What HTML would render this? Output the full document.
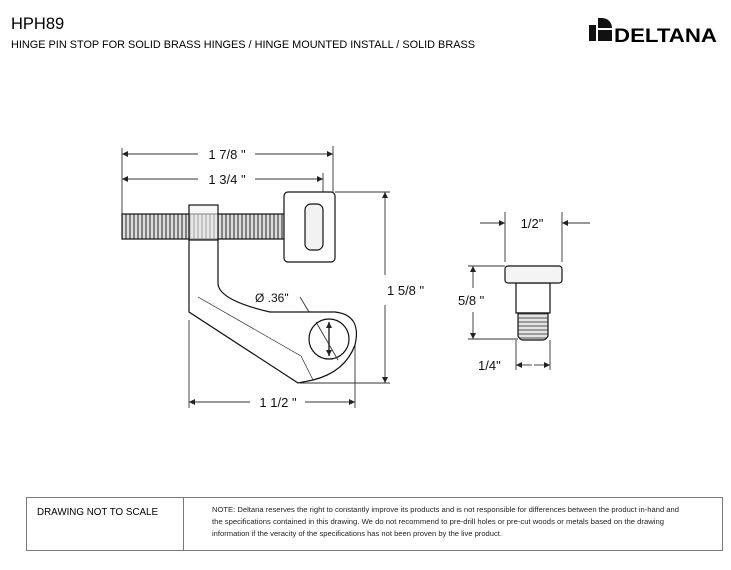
<!DOCTYPE html>
<html><head><style>
body{margin:0;background:#fff;width:731px;height:565px;overflow:hidden;font-family:"Liberation Sans",Arial,sans-serif}
</style></head><body>
<svg width="731" height="565" viewBox="0 0 731 565" xmlns="http://www.w3.org/2000/svg" font-family="Liberation Sans, Arial, sans-serif">
<defs>
<marker id="a" viewBox="0 0 10 10" refX="10" refY="5" markerWidth="9" markerHeight="6" orient="auto-start-reverse" markerUnits="userSpaceOnUse"><path d="M0,0L10,5L0,10z" fill="#222"/></marker>
<pattern id="th" width="4" height="4" patternUnits="userSpaceOnUse"><rect width="4" height="4" fill="#ddd"/><line x1="2" y1="0" x2="2" y2="4" stroke="#444" stroke-width="1.2"/></pattern>
<pattern id="th2" width="4" height="4" patternUnits="userSpaceOnUse"><rect width="4" height="4" fill="#e4e4e4"/><line x1="0" y1="2" x2="4" y2="2" stroke="#555" stroke-width="1"/></pattern>
</defs>
<text x="11" y="29" font-size="16.5">HPH89</text>
<text x="11" y="48" font-size="11" textLength="464" lengthAdjust="spacingAndGlyphs">HINGE PIN STOP FOR SOLID BRASS HINGES / HINGE MOUNTED INSTALL /  SOLID BRASS</text>
<g fill="#111"><rect x="589" y="25" width="7" height="16"/><path d="M598,18h4a10,10 0 0 1 10,10v0h-14z"/><rect x="598" y="30" width="14" height="11"/></g>
<text x="614" y="42" font-size="19" font-weight="bold" textLength="103" lengthAdjust="spacingAndGlyphs">DELTANA</text>

<g stroke="#333" stroke-width="0.9" fill="none">
<line x1="122" y1="148" x2="122" y2="215"/>
<line x1="122" y1="154" x2="198" y2="154" marker-start="url(#a)"/><line x1="255" y1="154" x2="333" y2="154" marker-end="url(#a)"/>
<line x1="333" y1="146" x2="333" y2="192"/>
<line x1="122" y1="179" x2="198" y2="179" marker-start="url(#a)"/><line x1="255" y1="179" x2="323" y2="179" marker-end="url(#a)"/>
<line x1="323" y1="173" x2="323" y2="204"/>
<line x1="335" y1="192" x2="390" y2="192"/><line x1="300" y1="383" x2="390" y2="383"/>
<line x1="385" y1="192" x2="385" y2="275" marker-start="url(#a)"/><line x1="385" y1="305" x2="385" y2="383" marker-end="url(#a)"/>
<line x1="189" y1="320" x2="189" y2="408"/><line x1="355" y1="340" x2="355" y2="408"/>
<line x1="189" y1="402" x2="250" y2="402" marker-start="url(#a)"/><line x1="305" y1="402" x2="355" y2="402" marker-end="url(#a)"/>
<line x1="300" y1="297" x2="338" y2="360"/>
</g>
<g font-size="13" fill="#111">
<text x="227" y="159" text-anchor="middle">1 7/8 "</text>
<text x="227" y="184" text-anchor="middle">1 3/4 "</text>
<text x="387" y="295">1 5/8 "</text>
<text x="278" y="407" text-anchor="middle">1 1/2 "</text>
<text x="255" y="302" font-size="12">Ø .36"</text>
</g>
<g stroke="#111" stroke-width="1.2">
<rect x="122" y="214" width="185" height="25" fill="url(#th)"/>
<path d="M189,240V312L298,383L313,380Q345,372 355,345Q362,315 335,312L270,312Q218,300 218,283V240" fill="#fff"/>
<line x1="198" y1="297" x2="301" y2="356" stroke-width="0.6"/>
<line x1="301" y1="356" x2="313" y2="380" stroke-width="0.6"/>
<circle cx="329" cy="339" r="20" fill="#fff"/>
<rect x="189" y="205" width="29" height="35" fill="rgba(240,240,240,0.6)"/>
<rect x="284" y="192" width="51" height="70" rx="4" fill="#fff"/>
<rect x="305" y="204" width="18" height="46" rx="6" fill="#f2f2f2"/>
</g>
<line x1="316" y1="322" x2="338" y2="360" stroke="#333" stroke-width="0.9"/>
<g stroke="#333" stroke-width="1.5"><line x1="329" y1="322" x2="329" y2="356" marker-start="url(#a)" marker-end="url(#a)"/></g>

<g stroke="#333" stroke-width="0.9" fill="none">
<line x1="505" y1="212" x2="505" y2="262"/><line x1="562" y1="212" x2="562" y2="262"/>
<line x1="480" y1="223" x2="505" y2="223" marker-end="url(#a)"/><line x1="590" y1="223" x2="562" y2="223" marker-end="url(#a)"/>
<line x1="468" y1="266" x2="505" y2="266"/><line x1="468" y1="339" x2="518" y2="339"/>
<line x1="473" y1="266" x2="473" y2="288" marker-start="url(#a)"/><line x1="473" y1="312" x2="473" y2="339" marker-end="url(#a)"/>
<line x1="516" y1="340" x2="516" y2="370"/><line x1="550" y1="340" x2="550" y2="370"/>
<line x1="516" y1="365" x2="532" y2="365" marker-start="url(#a)"/><line x1="534" y1="365" x2="550" y2="365" marker-end="url(#a)"/>
</g>
<g stroke="#111" stroke-width="1.2">
<rect x="516" y="283" width="34" height="30" fill="#fff"/>
<path d="M518,313H548V336Q546,340 543,340H523Q520,340 518,336Z" fill="url(#th2)"/>
<rect x="505" y="266" width="57" height="17" rx="3" fill="#f4f4f4"/>
</g>
<g font-size="13" fill="#111">
<text x="532" y="228" text-anchor="middle">1/2"</text>
<text x="458" y="305">5/8 "</text>
<text x="478" y="370">1/4"</text>
</g>

<rect x="26.5" y="497.5" width="696" height="53" fill="none" stroke="#777"/>
<line x1="183.5" y1="497" x2="183.5" y2="551" stroke="#777"/>
<text x="37" y="515" font-size="9.8">DRAWING NOT TO SCALE</text>
<g font-size="7" fill="#222">
<text x="212" y="512" textLength="467" lengthAdjust="spacingAndGlyphs">NOTE: Deltana reserves the right to constantly improve its products and is not responsible for differences between the product in-hand and</text>
<text x="212" y="524" textLength="452" lengthAdjust="spacingAndGlyphs">the specifications contained in this drawing.  We do not recommend to pre-drill holes or pre-cut woods or metals based on the drawing</text>
<text x="212" y="536" textLength="290" lengthAdjust="spacingAndGlyphs">information if the veracity of the specifications has not been proven by the live product.</text>
</g>
</svg>
</body></html>
